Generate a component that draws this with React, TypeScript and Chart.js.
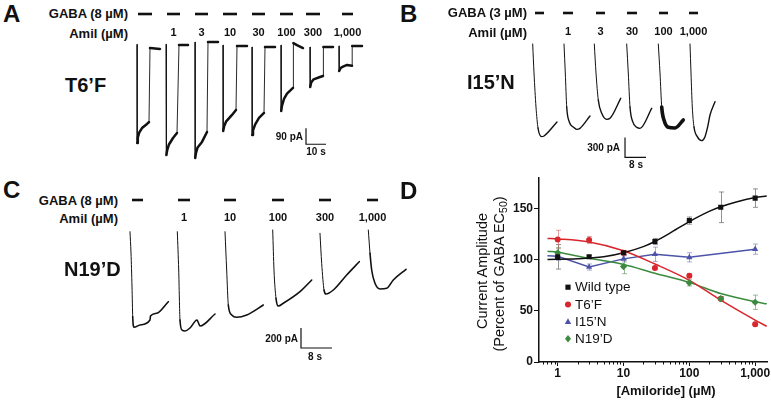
import React, { useEffect, useRef } from "react";
import { Chart, registerables } from "chart.js";

Chart.register(...registerables);

type Pt = [number, number];
const FONT = '"Liberation Sans", Arial, Helvetica, sans-serif';
const INK = "#111111";

// ---------------- Panel A : T6'F  (time s, current pA) ----------------
const A_CONC = ["", "1", "3", "10", "30", "100", "300", "1,000"];
const A_GABA: Pt[] = [[4, 11], [18.5, 25], [32.5, 39], [46.5, 53.5], [61, 67.5], [75, 81.5], [88, 95], [106, 111.5]];
const A_GABA_LEVEL = 185.6;
const A_SWEEPS: Pt[][] = [
  [[3.5, 15], [3.6, -540], [3.9, -510], [4.6, -482], [6, -456], [8.5, -433], [9.5, -422], [10, -6], [15, -11]],
  [[18, 16], [18.2, -608], [18.6, -580], [19.4, -550], [21.5, -512], [23.5, -484], [24.5, 11], [29, 11]],
  [[32.5, 28], [32.6, -624], [33, -595], [33.8, -565], [36, -534], [38.5, -478], [39, 28], [44, 28]],
  [[46.5, 11], [46.6, -472], [47, -448], [48, -420], [51, -382], [53, -354], [53.5, 6], [58.5, 6]],
  [[61, 0], [61.1, -495], [61.5, -468], [62.6, -435], [64.5, -399], [67, -371], [67.5, 0], [72.5, 0]],
  [[75.5, 11], [75.6, -360], [76, -330], [77, -292], [78.5, -262], [81.5, -230], [81.7, 22], [83.5, 11], [86.5, -6]],
  [[90, 0], [90.1, -225], [90.6, -200], [91.8, -182], [95, -169], [96.5, -163], [96.7, 0], [101.5, 0]],
  [[104.5, 6], [104.6, -135], [105.3, -118], [106.5, -110], [108.5, -101], [111, -106], [111.1, 6], [116, 6]],
];
const A_SCALEBAR: Pt[] = [[88, -457], [88, -547], [98, -547]]; // 90 pA, 10 s

// ---------------- Panel B : I15'N ----------------
const B_CONC = ["", "1", "3", "30", "100", "1,000"];
const B_GABA: Pt[] = [[3.81, 7.24], [14.48, 18.29], [27.05, 30.48], [38.86, 42.67], [51.05, 54.48], [62.48, 65.9]];
const B_GABA_LEVEL = 465;
const B_SWEEPS: Pt[][] = [
  [[2.93, 0], [3.43, -435], [4.19, -945], [4.95, -1260], [6.36, -1390], [7.24, -1380], [12.19, -1170]],
  [[14.86, 0], [15.35, -435], [15.89, -945], [16.88, -1170], [18.4, -1245], [19.7, -1280], [20.95, -1265], [24.76, -1080]],
  [[26.4, 0], [27.05, -435], [27.92, -840], [29.22, -1040], [31.12, -1130], [32.38, -1115], [36.46, -815]],
  [[38.74, 0], [39.35, -435], [40, -945], [41.03, -1165], [42.55, -1250], [43.81, -1265], [48.27, -965]],
  [[50.78, 0], [51.43, -435], [52.08, -945], [52.95, -1140], [54.6, -1250], [57.14, -1260], [60.3, -1140]],
  [[62.86, 0], [63.24, -435], [63.73, -945], [64.38, -1245], [65.64, -1390], [67.31, -1450], [68.57, -1390], [69.6, -1240], [70.48, -1065], [72.38, -865]],
];
const B_SCALEBAR: Pt[] = [[38.1, -1402], [38.1, -1702], [46.1, -1702]]; // 300 pA, 8 s

// ---------------- Panel C : N19'D ----------------
const C_CONC = ["", "1", "10", "100", "300", "1,000"];
const C_GABA: Pt[] = [[3.1, 5.94], [14.97, 18.06], [26.84, 29.94], [39.23, 42.32], [51.35, 54.45], [63.74, 66.58]];
const C_GABA_LEVEL = 310;
const C_SWEEPS: Pt[][] = [
  [[2.58, -7], [2.84, -220], [3.1, -560], [3.28, -857], [3.61, -963], [5.16, -940], [7.74, -890], [7.87, -850], [9.47, -823], [12.47, -707]],
  [[14.79, -7], [15.15, -390], [15.48, -890], [16, -990], [16.77, -1000], [18.06, -970], [19.87, -890], [20.26, -920], [20.65, -950], [24.52, -830]],
  [[27.1, -7], [27.53, -390], [27.95, -740], [28.83, -840], [30.12, -863], [32.7, -840], [36.98, -740]],
  [[39.41, 10], [39.74, -390], [40.26, -673], [40.85, -750], [42.14, -723], [46.45, -607], [49.47, -490]],
  [[51.61, -23], [52.05, -323], [52.65, -590], [53.16, -630], [55.05, -590], [58.5, -440], [61.75, -307]],
  [[64.08, 10], [64.52, -223], [64.95, -390], [65.81, -523], [67.1, -580], [68.83, -573], [70.53, -490], [73.81, -383]],
];
const C_SCALEBAR: Pt[] = [[46.71, -970], [46.71, -1170], [54.71, -1170]]; // 200 pA, 8 s

// ---------------- Panel D : dose response ----------------
const WT_X = [1, 3, 10, 30, 100, 300, 1000];
const WT_Y = [103, 103, 107, 118, 138.5, 151.5, 160.5];
const WT_ERR = [12, 1.5, 2, 3, 3.5, 15, 9];
const T6F_X = [1, 3, 10, 30, 100, 300, 1000];
const T6F_Y = [120, 119.5, 107, 92, 84.5, 62, 37];
const T6F_ERR = [9, 3.5, 2, 1.5, 2, 2, 2];
const I15N_X = [1, 3, 10, 30, 100, 1000];
const I15N_Y = [103.5, 93, 101, 105.5, 102.5, 110.5];
const I15N_ERR = [4, 3, 3, 7, 4.5, 5];
const N19D_X = [1, 10, 100, 300, 1000];
const N19D_Y = [107, 93.5, 77.5, 62, 58.5];
const N19D_ERR = [5, 7, 3, 2, 7];

const WT_FIT_X = [0.7, 2, 5, 10, 20, 30, 50, 100, 200, 300, 500, 1000, 1500];
const WT_FIT_Y = [100.5, 101, 103, 107, 113, 118, 126, 137.5, 147.5, 152, 156.5, 161, 162.5];
const T6F_FIT_X = [0.7, 1, 3, 10, 30, 100, 300, 1000, 1500];
const T6F_FIT_Y = [121, 120.5, 117.5, 109, 96, 80, 60.5, 41, 35];
const N19D_FIT_X = [0.7, 1, 3, 10, 30, 100, 300, 1000, 1500];
const N19D_FIT_Y = [108.5, 107.5, 101.5, 95.5, 87, 78, 67, 59, 57];
const I15N_LINE_X = [0.7, 1, 3, 10, 30, 100, 1000];
const I15N_LINE_Y = [104, 103.5, 93, 101, 105.5, 102.5, 110.5];

const X_MAJOR = [1, 10, 100, 1000];
const X_LABELS = ["1", "10", "100", "1,000"];
const Y_TICKS = [0, 50, 100, 150];

const BLACK = "#111111";
const RED = "#d8262c";
const BLUE = "#4d53a8";
const GREEN = "#3b8b3f";

const SERIES = [
  { name: "Wild type", xs: WT_X, ys: WT_Y, err: WT_ERR, color: BLACK, style: "rect", errColor: "rgba(110,110,110,0.75)" },
  { name: "T6\u2019F", xs: T6F_X, ys: T6F_Y, err: T6F_ERR, color: RED, style: "circle", errColor: "rgba(200,90,90,0.55)" },
  { name: "I15\u2019N", xs: I15N_X, ys: I15N_Y, err: I15N_ERR, color: BLUE, style: "triangle", errColor: "rgba(100,105,170,0.55)" },
  { name: "N19\u2019D", xs: N19D_X, ys: N19D_Y, err: N19D_ERR, color: GREEN, style: "rectRot", errColor: "rgba(90,140,90,0.6)" },
];

const toXY = (xs: number[], ys: number[]) => xs.map((x, i) => ({ x, y: ys[i] }));

interface TraceCfg {
  xMax: number;
  yMin: number;
  yMax: number;
  sweeps: Pt[][];
  gaba: Pt[];
  gabaLevel: number;
  conc: string[];
  scale: Pt[];
  thick: number;
  thin: number;
  noisy?: number;
  noisyWidth?: number;
  smooth: boolean;
  labelGap: number;
}

function buildTrace(canvas: HTMLCanvasElement, cfg: TraceCfg) {
  const datasets: any[] = [];
  cfg.sweeps.forEach((s, i) => {
    const w = i === cfg.noisy ? (cfg.noisyWidth as number) : cfg.thick;
    datasets.push({
      data: s.map(([x, y]) => ({ x, y })),
      borderColor: INK,
      borderWidth: w,
      pointRadius: 0,
      tension: 0,
      cubicInterpolationMode: cfg.smooth ? "monotone" : "default",
      borderJoinStyle: "round",
      borderCapStyle: "round",
      segment: {
        borderWidth: (c: any) => {
          const dx = Math.abs(c.p1.x - c.p0.x);
          const dy = Math.abs(c.p1.y - c.p0.y);
          return dy > 18 && dx < 3 ? cfg.thin : w;
        },
      },
    });
  });
  cfg.gaba.forEach(([a, b]) => {
    datasets.push({
      data: [{ x: a, y: cfg.gabaLevel }, { x: b, y: cfg.gabaLevel }],
      borderColor: INK,
      borderWidth: 2.6,
      pointRadius: 0,
      borderCapStyle: "butt",
    });
  });
  datasets.push({
    data: cfg.scale.map(([x, y]) => ({ x, y })),
    borderColor: INK,
    borderWidth: 1.2,
    pointRadius: 0,
    borderCapStyle: "butt",
  });

  const concLabels = {
    id: "concLabels",
    afterDraw(chart: any) {
      const { ctx } = chart;
      const xs = chart.scales.x;
      const ys = chart.scales.y;
      ctx.save();
      ctx.font = `bold 11px ${FONT}`;
      ctx.fillStyle = INK;
      ctx.textAlign = "center";
      ctx.textBaseline = "middle";
      cfg.gaba.forEach(([a, b], i) => {
        const label = cfg.conc[i];
        if (!label) return;
        const px = xs.getPixelForValue((a + b) / 2);
        const py = ys.getPixelForValue(cfg.gabaLevel) + cfg.labelGap;
        ctx.fillText(label, px, py);
      });
      ctx.restore();
    },
  };

  return new Chart(canvas, {
    type: "line",
    data: { datasets },
    options: {
      animation: false,
      responsive: false,
      maintainAspectRatio: false,
      events: [],
      layout: { padding: 0 },
      plugins: { legend: { display: false }, tooltip: { enabled: false } },
      scales: {
        x: { type: "linear", min: 0, max: cfg.xMax, display: false },
        y: { type: "linear", min: cfg.yMin, max: cfg.yMax, display: false },
      },
    },
    plugins: [concLabels],
  } as any);
}

function drawMarker(ctx: CanvasRenderingContext2D, style: string, x: number, y: number, color: string) {
  ctx.save();
  ctx.fillStyle = color;
  ctx.beginPath();
  if (style === "rect") {
    ctx.rect(x - 2.6, y - 2.6, 5.2, 5.2);
  } else if (style === "circle") {
    ctx.arc(x, y, 3, 0, Math.PI * 2);
  } else if (style === "triangle") {
    ctx.moveTo(x, y - 3.4);
    ctx.lineTo(x + 3.2, y + 2.4);
    ctx.lineTo(x - 3.2, y + 2.4);
    ctx.closePath();
  } else {
    ctx.moveTo(x, y - 3.8);
    ctx.lineTo(x + 3, y);
    ctx.lineTo(x, y + 3.8);
    ctx.lineTo(x - 3, y);
    ctx.closePath();
  }
  ctx.fill();
  ctx.restore();
}

function buildDose(canvas: HTMLCanvasElement) {
  const X_MIN = 0.52;
  const X_MAX = 1514;
  const minor: number[] = [];
  [0.1, 1, 10, 100, 1000].forEach((d) => {
    for (let k = 2; k <= 9; k++) {
      const v = d * k;
      if (v > X_MIN && v < X_MAX) minor.push(v);
    }
  });

  const errorBars = {
    id: "errorBars",
    beforeDatasetsDraw(chart: any) {
      const { ctx } = chart;
      const xs = chart.scales.x;
      const ys = chart.scales.y;
      ctx.save();
      ctx.lineWidth = 1;
      SERIES.forEach((s) => {
        ctx.strokeStyle = s.errColor;
        s.xs.forEach((xv, i) => {
          const px = Math.round(xs.getPixelForValue(xv)) + 0.5;
          const top = ys.getPixelForValue(s.ys[i] + s.err[i]);
          const bot = ys.getPixelForValue(s.ys[i] - s.err[i]);
          ctx.beginPath();
          ctx.moveTo(px, top);
          ctx.lineTo(px, bot);
          ctx.moveTo(px - 2.5, top);
          ctx.lineTo(px + 2.5, top);
          ctx.moveTo(px - 2.5, bot);
          ctx.lineTo(px + 2.5, bot);
          ctx.stroke();
        });
      });
      ctx.restore();
    },
  };

  const extras = {
    id: "extras",
    afterDraw(chart: any) {
      const { ctx, chartArea } = chart;
      const xs = chart.scales.x;
      ctx.save();
      ctx.strokeStyle = INK;
      ctx.lineWidth = 1;
      minor.forEach((v) => {
        const px = Math.round(xs.getPixelForValue(v)) + 0.5;
        ctx.beginPath();
        ctx.moveTo(px, chartArea.bottom);
        ctx.lineTo(px, chartArea.bottom + 2.5);
        ctx.stroke();
      });
      // legend inside plot
      ctx.font = `13.5px ${FONT}`;
      ctx.textBaseline = "middle";
      ctx.fillStyle = INK;
      SERIES.forEach((s, i) => {
        const ly = chartArea.top + 109 + i * 17.2;
        const lx = chartArea.left + 29;
        drawMarker(ctx, s.style, lx, ly, s.color);
        ctx.fillStyle = INK;
        ctx.fillText(s.name, lx + 7, ly + 0.5);
      });
      ctx.restore();
    },
  };

  const lineDs = (xs: number[], ys: number[], color: string, smooth: boolean) => ({
    data: toXY(xs, ys),
    borderColor: color,
    borderWidth: 1.5,
    pointRadius: 0,
    tension: 0,
    cubicInterpolationMode: smooth ? "monotone" : "default",
    order: 10,
  });
  const markerDs = (s: any, order: number) => ({
    data: toXY(s.xs, s.ys),
    showLine: false,
    pointStyle: s.style,
    pointRadius: s.style === "rect" ? 3.6 : s.style === "circle" ? 3 : 3.6,
    backgroundColor: s.color,
    borderColor: s.color,
    borderWidth: 0,
    order,
  });

  return new Chart(canvas, {
    type: "line",
    data: {
      datasets: [
        lineDs(WT_FIT_X, WT_FIT_Y, BLACK, true),
        lineDs(T6F_FIT_X, T6F_FIT_Y, RED, true),
        lineDs(N19D_FIT_X, N19D_FIT_Y, GREEN, true),
        lineDs(I15N_LINE_X, I15N_LINE_Y, BLUE, false),
        markerDs(SERIES[1], 3),
        markerDs(SERIES[2], 2),
        markerDs(SERIES[3], 1),
        markerDs(SERIES[0], 0),
      ],
    },
    options: {
      animation: false,
      responsive: false,
      maintainAspectRatio: false,
      events: [],
      layout: { padding: { top: 8, right: 4, left: 0, bottom: 0 } },
      plugins: { legend: { display: false }, tooltip: { enabled: false } },
      scales: {
        x: {
          type: "logarithmic",
          min: X_MIN,
          max: X_MAX,
          afterBuildTicks: (scale: any) => {
            scale.ticks = X_MAJOR.map((v) => ({ value: v, major: true }));
          },
          afterFit: (scale: any) => {
            scale.height = 39;
          },
          ticks: {
            autoSkip: false,
            maxRotation: 0,
            padding: 0,
            color: INK,
            font: { family: FONT, size: 12, weight: "bold" },
            callback: (v: number) => {
              const i = X_MAJOR.indexOf(Number(v));
              return i >= 0 ? X_LABELS[i] : "";
            },
          },
          grid: { display: true, drawOnChartArea: false, drawTicks: true, tickLength: 4, color: INK, lineWidth: 1 },
          border: { display: true, color: INK, width: 1.5 },
        },
        y: {
          type: "linear",
          min: 0,
          max: 180,
          afterBuildTicks: (scale: any) => {
            scale.ticks = Y_TICKS.map((v) => ({ value: v }));
          },
          afterFit: (scale: any) => {
            scale.width = 79;
          },
          ticks: {
            padding: 1,
            color: INK,
            font: { family: FONT, size: 12, weight: "bold" },
          },
          grid: { display: true, drawOnChartArea: false, drawTicks: true, tickLength: 5, color: INK, lineWidth: 1 },
          border: { display: true, color: INK, width: 1.5 },
        },
      },
    },
    plugins: [errorBars, extras],
  } as any);
}

function TraceCanvas(props: { cfg: TraceCfg; left: number; top: number; width: number; height: number }) {
  const ref = useRef<HTMLCanvasElement>(null);
  useEffect(() => {
    const chart = buildTrace(ref.current as HTMLCanvasElement, props.cfg);
    return () => chart.destroy();
  }, []);
  return (
    <canvas
      ref={ref}
      width={props.width}
      height={props.height}
      style={{ position: "absolute", left: props.left, top: props.top, width: props.width, height: props.height }}
    />
  );
}

function DoseCanvas() {
  const ref = useRef<HTMLCanvasElement>(null);
  useEffect(() => {
    const chart = buildDose(ref.current as HTMLCanvasElement);
    return () => chart.destroy();
  }, []);
  return (
    <canvas ref={ref} width={311} height={231} style={{ position: "absolute", left: 460, top: 170, width: 311, height: 231 }} />
  );
}

function T(props: { x: number; y: number; s: number; b?: boolean; a?: "left" | "right" | "center"; children: any }) {
  const a = props.a || "left";
  const tx = a === "left" ? "0" : a === "right" ? "-100%" : "-50%";
  return (
    <div
      style={{
        position: "absolute",
        left: props.x,
        top: props.y,
        transform: `translate(${tx},-50%)`,
        fontSize: props.s,
        fontWeight: props.b === false ? 400 : 700,
        lineHeight: 1,
        whiteSpace: "nowrap",
        fontFamily: FONT,
        color: INK,
      }}
    >
      {props.children}
    </div>
  );
}

const A_CFG: TraceCfg = {
  xMax: 120, yMin: -663.75, yMax: 264.4, sweeps: A_SWEEPS, gaba: A_GABA, gabaLevel: A_GABA_LEVEL,
  conc: A_CONC, scale: A_SCALEBAR, thick: 2.5, thin: 0.9, smooth: false, labelGap: 19,
};
const B_CFG: TraceCfg = {
  xMax: 76.19, yMin: -1860, yMax: 660, sweeps: B_SWEEPS, gaba: B_GABA, gabaLevel: B_GABA_LEVEL,
  conc: B_CONC, scale: B_SCALEBAR, thick: 1.4, thin: 1.0, noisy: 4, noisyWidth: 3.6, smooth: true, labelGap: 19,
};
const C_CFG: TraceCfg = {
  xMax: 77.42, yMin: -1310, yMax: 410, sweeps: C_SWEEPS, gaba: C_GABA, gabaLevel: C_GABA_LEVEL,
  conc: C_CONC, scale: C_SCALEBAR, thick: 1.6, thin: 1.0, smooth: true, labelGap: 18,
};

export default function App() {
  return (
    <div style={{ position: "absolute", left: 0, top: 0, width: 771, height: 401, background: "#fff", overflow: "hidden" }}>
      <TraceCanvas cfg={A_CFG} left={130} top={0} width={240} height={165} />
      <TraceCanvas cfg={B_CFG} left={525} top={0} width={200} height={168} />
      <TraceCanvas cfg={C_CFG} left={120} top={190} width={300} height={172} />
      <DoseCanvas />

      <T x={3} y={14} s={24}>A</T>
      <T x={400} y={14} s={24}>B</T>
      <T x={3} y={190} s={24}>C</T>
      <T x={400} y={191} s={24}>D</T>

      <T x={128} y={13} s={13} a="right">GABA (8 µM)</T>
      <T x={128} y={33} s={13} a="right">Amil (µM)</T>
      <T x={65} y={85} s={20}>T6’F</T>
      <T x={303} y={137} s={10} a="right">90 pA</T>
      <T x={316} y={152} s={10} a="center">10 s</T>

      <T x={527} y={12} s={13} a="right">GABA (3 µM)</T>
      <T x={527} y={32} s={13} a="right">Amil (µM)</T>
      <T x={467} y={82} s={20}>I15’N</T>
      <T x={620} y={148} s={10} a="right">300 pA</T>
      <T x={636} y={165} s={10} a="center">8 s</T>

      <T x={118} y={200} s={13} a="right">GABA (8 µM)</T>
      <T x={118} y={218} s={13} a="right">Amil (µM)</T>
      <T x={64} y={269} s={20}>N19’D</T>
      <T x={298} y={339} s={10} a="right">200 pA</T>
      <T x={315} y={357} s={10} a="center">8 s</T>

      <T x={666} y={390} s={13} a="center">[Amiloride] (µM)</T>
      <div
        style={{
          position: "absolute", left: 482, top: 271, transform: "translate(-50%,-50%) rotate(-90deg)",
          fontSize: 14.5, lineHeight: 1, whiteSpace: "nowrap", fontFamily: FONT, color: INK,
        }}
      >
        Current Amplitude
      </div>
      <div
        style={{
          position: "absolute", left: 499, top: 274, transform: "translate(-50%,-50%) rotate(-90deg)",
          fontSize: 14.5, lineHeight: 1, whiteSpace: "nowrap", fontFamily: FONT, color: INK,
        }}
      >
        (Percent of GABA EC<sub style={{ fontSize: "0.72em", verticalAlign: "-0.3em", lineHeight: 0 }}>50</sub>)
      </div>
    </div>
  );
}
